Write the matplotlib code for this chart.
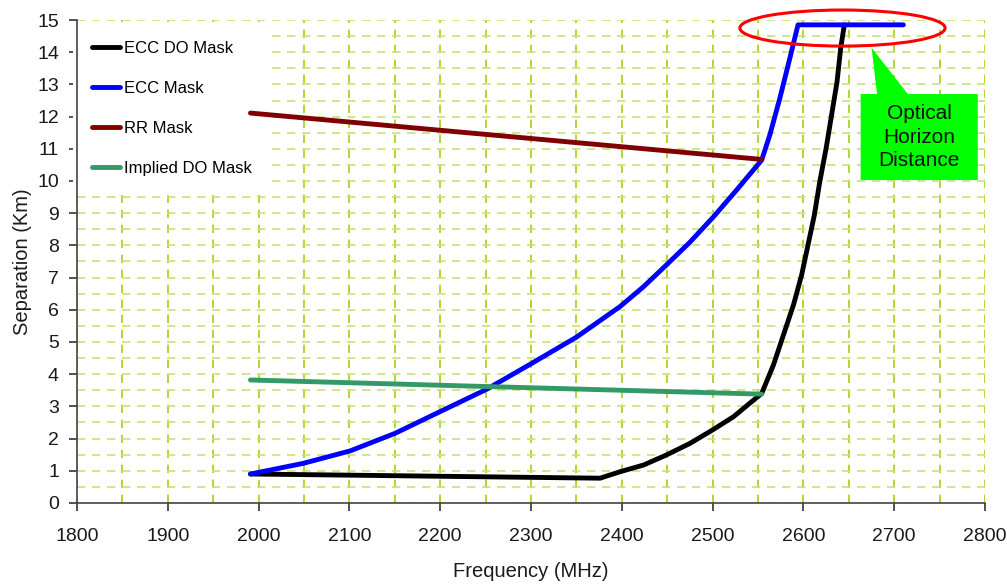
import matplotlib
matplotlib.use("Agg")
import matplotlib.pyplot as plt
from matplotlib.patches import Ellipse, Polygon
from matplotlib.ticker import MultipleLocator

plt.rcParams['font.family'] = ['Liberation Sans', 'DejaVu Sans']

# ---- data ----
ecc_do_freq = [1991, 2112, 2229, 2376, 2398, 2424, 2449, 2475, 2500, 2523, 2541, 2554,
               2567, 2578, 2589, 2598, 2605, 2612, 2618, 2625, 2631, 2637, 2641, 2645]
ecc_do_sep = [0.90, 0.86, 0.82, 0.77, 0.97, 1.18, 1.49, 1.85, 2.27, 2.68, 3.10, 3.40,
              4.29, 5.22, 6.15, 7.08, 8.01, 8.94, 9.98, 11.02, 12.05, 13.08, 14.12, 14.85]

ecc_freq = [1991, 2049, 2101, 2150, 2200, 2251, 2301, 2350, 2398, 2424, 2449, 2475,
            2501, 2527, 2554, 2563, 2574, 2585, 2594, 2710]
ecc_sep = [0.90, 1.23, 1.62, 2.16, 2.84, 3.53, 4.34, 5.15, 6.10, 6.72, 7.39, 8.10,
           8.89, 9.74, 10.65, 11.43, 12.57, 13.81, 14.85, 14.85]

rr_freq = [1991, 2554]
rr_sep = [12.11, 10.67]

implied_freq = [1991, 2554]
implied_sep = [3.82, 3.38]

series = [
    ("ECC DO Mask", ecc_do_freq, ecc_do_sep, "#000000"),
    ("ECC Mask", ecc_freq, ecc_sep, "#0000ff"),
    ("RR Mask", rr_freq, rr_sep, "#800000"),
    ("Implied DO Mask", implied_freq, implied_sep, "#339966"),
]

# annotation geometry (data units)
ellipse_center = (2643, 14.75)
ellipse_w, ellipse_h = 226, 1.12
box_x0, box_x1 = 2663, 2792
box_y0, box_y1 = 10.03, 12.70
notch_x0, notch_x1 = 2681, 2715
tip = (2675, 14.14)
callout_text = "Optical\nHorizon\nDistance"


fig = plt.figure(figsize=(10.07, 5.85), dpi=100)
ax = fig.add_axes([0.0765, 0.1402, 0.9017, 0.8256])

for name, fx, fy, col in series:
    ax.plot(fx, fy, color=col, lw=3.5, label=name, solid_capstyle='round',
            solid_joinstyle='round', zorder=3)

ax.set_xlim(1800, 2800)
ax.set_ylim(0, 15)
ax.xaxis.set_major_locator(MultipleLocator(100))
ax.xaxis.set_minor_locator(MultipleLocator(50))
ax.yaxis.set_major_locator(MultipleLocator(1))
ax.yaxis.set_minor_locator(MultipleLocator(0.5))

ax.set_axisbelow(True)
ax.xaxis.grid(True, which='both', color='#a6cf10', linestyle=(0, (5, 4)), lw=1.2)
ax.yaxis.grid(True, which='both', color='#c9e175', linestyle=(0, (5, 4)), lw=1.2)

for s in ['top', 'right']:
    ax.spines[s].set_visible(False)
for s in ['left', 'bottom']:
    ax.spines[s].set_color('#444444')
    ax.spines[s].set_linewidth(1.2)

ax.tick_params(which='major', direction='out', length=6, width=1.2, color='#333333',
               labelsize=14, labelcolor='#1a1a1a')
ax.tick_params(axis='x', which='major', pad=12)
ax.tick_params(axis='y', which='major', pad=7)
ax.tick_params(which='minor', length=0)

ax.set_xlabel('Frequency (MHz)', fontsize=14.5, color='#1a1a1a', labelpad=12)
ax.set_ylabel('Separation (Km)', fontsize=14.5, color='#1a1a1a', labelpad=4)

leg = ax.legend(loc='upper left', bbox_to_anchor=(-0.0066, 1.0), fontsize=12,
                frameon=True, fancybox=False, facecolor='white', edgecolor='white',
                framealpha=1.0, borderaxespad=0.1, borderpad=1.15,
                handlelength=1.7, handletextpad=0.2, labelspacing=1.5)
leg.get_frame().set_linewidth(0)
leg.set_zorder(2)

# red ellipse around the flat top
ax.add_patch(Ellipse(ellipse_center, ellipse_w, ellipse_h, fill=False,
                     edgecolor='#ff0000', lw=2.2, clip_on=False, zorder=4))

# green callout
callout = Polygon([(box_x0, box_y0), (box_x1, box_y0), (box_x1, box_y1),
                   (notch_x1, box_y1), tip, (notch_x0, box_y1), (box_x0, box_y1)],
                  closed=True, facecolor='#00ff00', edgecolor='none', zorder=4)
ax.add_patch(callout)
ax.text((box_x0 + box_x1) / 2, (box_y0 + box_y1) / 2, callout_text,
        ha='center', va='center', fontsize=15, linespacing=1.3, color='#111111',
        zorder=5)

fig.savefig('out.png', dpi=100)
